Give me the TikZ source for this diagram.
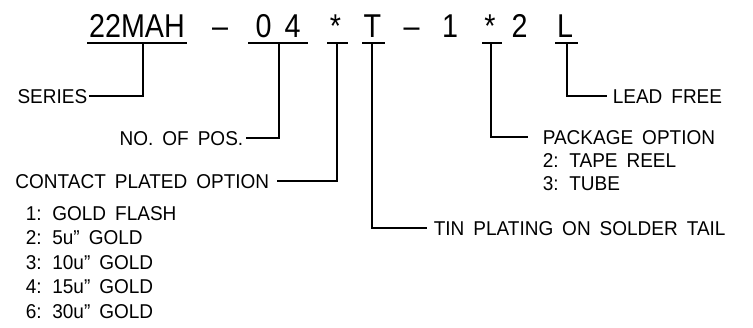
\documentclass[tikz,border=0pt]{standalone}
\usepackage{fontspec}
\setmainfont{Liberation Sans}[WordSpace=1.7,FakeStretch=0.95]
\newfontfamily\topfont{Liberation Sans}[FakeStretch=0.87]
\begin{document}
\begin{tikzpicture}[x=1pt,y=-1pt,line width=1.6pt,
  lbl/.style={font=\fontsize{20}{20}\selectfont,inner sep=0pt,text height=14.3pt,text depth=0pt},
  top/.style={font=\topfont\fontsize{33}{33}\selectfont,inner sep=0pt,anchor=base}]
\useasboundingbox[fill=white] (0,0) rectangle (753,328);
% part number characters
\node[top] (t1) at (137,38) {22MAH};
\node[top] (t2) at (220,38) {–};
\node[top] (t3) at (263.5,38) {0};
\node[top] (t4) at (292.5,38) {4};
\node[top] (t5) at (335.5,38) {*};
\node[top] (t6) at (372.5,38) {T};
\node[top] (t7) at (411.5,38) {–};
\node[top] (t8) at (450,38) {1};
\node[top] (t9) at (490,38) {*};
\node[top] (t10) at (519.5,38) {2};
\node[top] (t11) at (565,38) {L};
% underline coordinates
\coordinate (a1) at (87,43);  \coordinate (b1) at (187,43); \coordinate (m1) at (143,43);
\coordinate (a2) at (248,43); \coordinate (b2) at (308,43); \coordinate (m2) at (279,43);
\coordinate (a3) at (327,43); \coordinate (b3) at (348,43); \coordinate (m3) at (337,43);
\coordinate (a4) at (362,43); \coordinate (b4) at (385,43); \coordinate (m4) at (372,43);
\coordinate (a5) at (482,43); \coordinate (b5) at (502,43); \coordinate (m5) at (491,43);
\coordinate (a6) at (555,43); \coordinate (b6) at (578,43); \coordinate (m6) at (567,43);
\foreach \i in {1,...,6} {\draw (a\i) -- (b\i);}
% labels
\node[lbl,anchor=east] (series) at (88,96) {SERIES};
\node[lbl,anchor=east] (pos) at (244,138) {NO. OF POS.};
\node[lbl,anchor=east] (contact) at (270,181) {CONTACT PLATED OPTION};
\node[lbl,anchor=west] (c1) at (25,213.3) {1: GOLD FLASH};
\node[lbl,anchor=west] (c2) at (25,237.8) {2: 5u” GOLD};
\node[lbl,anchor=west] (c3) at (25,262.3) {3: 10u” GOLD};
\node[lbl,anchor=west] (c4) at (25,286.8) {4: 15u” GOLD};
\node[lbl,anchor=west] (c5) at (25,311.3) {6: 30u” GOLD};
\node[lbl,anchor=west] (tin) at (433,228) {TIN PLATING ON SOLDER TAIL};
\node[lbl,anchor=west] (pack) at (542,137) {PACKAGE OPTION};
\node[lbl,anchor=west] (p1) at (542,160.5) {2: TAPE REEL};
\node[lbl,anchor=west] (p2) at (542,183) {3: TUBE};
\node[lbl,anchor=west] (lead) at (612,96) {LEAD FREE};
% connectors
\draw (m1) |- ([xshift=1pt]series.east);
\draw (m2) |- ([xshift=2pt]pos.east);
\draw (m3) |- ([xshift=7pt]contact.east);
\draw (m4) |- ([xshift=-6pt]tin.west);
\draw (m5) |- ([xshift=-14pt]pack.west);
\draw (m6) |- ([xshift=-5pt]lead.west);
\end{tikzpicture}
\end{document}
